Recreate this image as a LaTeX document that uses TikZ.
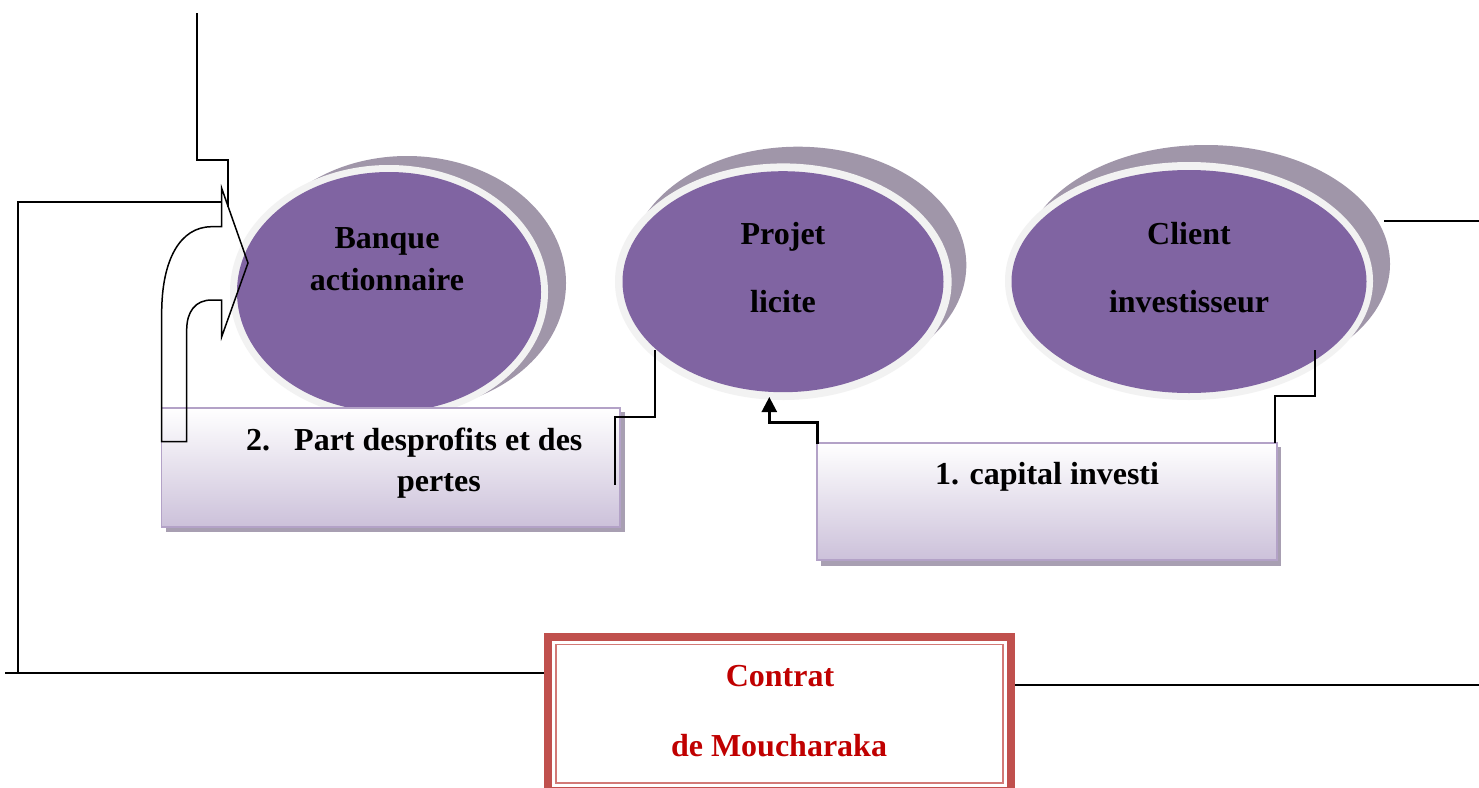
\documentclass[tikz,border=0pt]{standalone}
\usepackage{fontspec}
\setmainfont{Liberation Serif}
\usetikzlibrary{shapes.geometric,arrows.meta}
\definecolor{purp}{HTML}{8064A2}
\definecolor{rimc}{HTML}{F2F2F2}
\definecolor{shadc}{HTML}{A096A9}
\definecolor{boxbot}{HTML}{CCC1DA}
\definecolor{boxline}{HTML}{B3A2C7}
\definecolor{boxshad}{HTML}{A89FB2}
\definecolor{framec}{HTML}{C0504D}
\definecolor{frameinner}{HTML}{D27A77}
\definecolor{redtxt}{HTML}{C00000}
\tikzset{
  conn/.style={draw=black, line width=1.8pt},
  txt/.style={font=\bfseries\fontsize{32}{38}\selectfont, inner sep=0pt, anchor=base},
  shadell/.style={ellipse, fill=shadc, inner sep=0pt},
  rimell/.style={ellipse, fill=rimc, inner sep=0pt},
  purpell/.style={ellipse, fill=purp, inner sep=0pt},
  pbox/.style={rectangle, draw=boxline, line width=1.5pt, top color=white, bottom color=boxbot, inner sep=0pt},
}
\begin{document}
\begin{tikzpicture}[x=1pt,y=-1pt]
\useasboundingbox (0,0) rectangle (1479,787);
\fill[white] (0,0) rectangle (1479,787);

% ellipses: shadows
\node[shadell, minimum width=318pt, minimum height=254pt] (bsh) at (407,283) {};
\node[shadell, minimum width=336.6pt, minimum height=236.6pt] (psh) at (798,265) {};
\node[shadell, minimum width=368pt, minimum height=238pt] (csh) at (1206,264) {};
% rims
\node[rimell, minimum width=318pt, minimum height=254pt] (brim) at (389,292) {};
\node[rimell, minimum width=336.6pt, minimum height=236.6pt] (prim) at (783.3,281.7) {};
\node[rimell, minimum width=368pt, minimum height=238pt] (crim) at (1189,281) {};
% purple
\node[purpell, minimum width=304pt, minimum height=240pt] (banque) at (389,292) {};
\node[purpell, minimum width=321pt, minimum height=221pt] (projet) at (783,281.7) {};
\node[purpell, minimum width=355pt, minimum height=223pt] (client) at (1189,281.5) {};

\node[txt] (b1) at (387,248.5) {Banque};
\node[txt] (b2) at (387,290) {actionnaire};
\node[txt] (p1) at (783,244) {Projet};
\node[txt] (p2) at (783,312.5) {licite};
\node[txt] (c1) at (1189,244) {Client};
\node[txt] (c2) at (1189,312.5) {investisseur};

% boxes
\fill[boxshad] (166,412) rectangle (625,532);
\node[pbox, minimum width=458.3pt, minimum height=119pt] (part) at (390.85,467.5) {};
\node[txt, anchor=base west] (part1) at (246,450) {2.\hspace{24pt}Part desprofits et des};
\node[txt, anchor=base west] (part2) at (397,491) {pertes};

\fill[boxshad] (821,447) rectangle (1281,566);
\node[pbox, minimum width=460pt, minimum height=117pt] (capital) at (1047,501.5) {};
\node[txt] (cap1) at (1047,484) {1. capital investi};

% contract frame
\node[draw=framec, line width=8pt, minimum width=463pt, minimum height=154.5pt, inner sep=0pt] (contrat) at (779.5,713.75) {};
\draw[frameinner, line width=1.8pt] (556,644.5) rectangle (1003,783.3);
\node[txt, text=redtxt] (ct1) at (780,686) {Contrat};
\node[txt, text=redtxt] (ct2) at (779,756) {de Moucharaka};

% coordinates
\coordinate (topstart) at (197,13);
\coordinate (L1) at (5,673.3);
\coordinate (LV) at (18,673.3);
\coordinate (R1) at (1479,685);
\coordinate (tr) at (1479,220.7);

% bent arrow into Banque
\draw[line width=1.5pt, line join=miter] (248,263) coordinate (tip) -- (221.7,188.3) -- (221.7,226.7) -- (211.7,226.7)
  .. controls (180,226.7) and (161.7,260) .. (161.7,313) -- (161.7,441.7) -- (186.7,441.7) -- (186.7,330)
  .. controls (186.7,312) and (195,300) .. (211.7,300) -- (221.7,300) -- (221.7,336.7) -- cycle;

% connectors
\draw[conn] (topstart) -- (197,160) -- (228.3,160) -- (228.3,207);
\draw[conn] (L1) -- (L1 -| contrat.west);
\draw[conn] (LV) -- (18,202) -- (221.7,202);
\draw[conn] (contrat.east |- R1) -- (R1);
\draw[conn] (1384,220.7) -- (tr);
\draw[conn] (655,350) -- (655,417.3) -- (615,417.3) -- (615,485);
\draw[line width=2.5pt, -{Triangle[length=15pt,width=15pt]}] (817.3,444) -- (817.3,422.3) -- (769.3,422.3) -- (769.3,397);
\draw[conn] (1315,350) -- (1315,396) -- (1275,396) -- (1275,443);
\end{tikzpicture}
\end{document}
